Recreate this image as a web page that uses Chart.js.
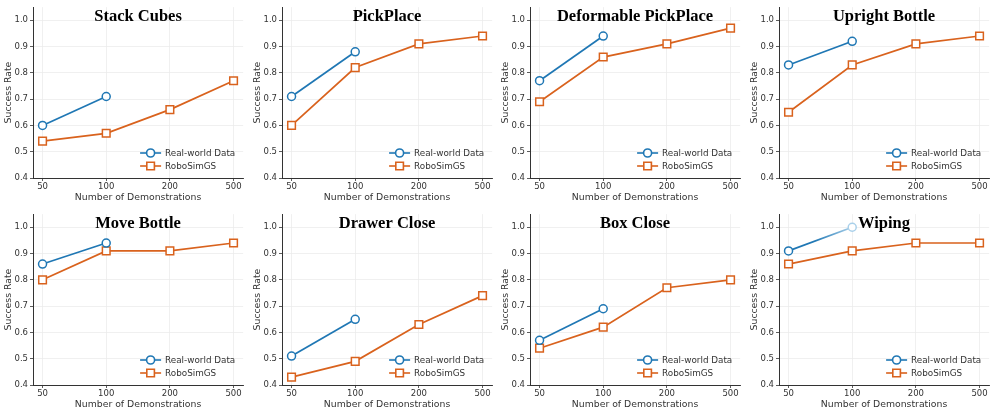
<!DOCTYPE html>
<html>
<head>
<meta charset="utf-8">
<script src="https://cdn.jsdelivr.net/npm/chart.js@4/dist/chart.umd.min.js"></script>
<style>
  html, body { margin: 0; padding: 0; background: #fff; }
  #wrap { position: relative; width: 997px; height: 415px; overflow: hidden; }
  .panel { position: absolute; }
</style>
</head>
<body>
<div id="wrap"></div>
<script>
// ---------------- DATA ----------------
const demonstrations = ['50', '100', '200', '500'];
const taskTitles = ['Stack Cubes', 'PickPlace', 'Deformable PickPlace', 'Upright Bottle',
                    'Move Bottle', 'Drawer Close', 'Box Close', 'Wiping'];
const seriesNames = ['Real-world Data', 'RoboSimGS'];

const stackCubesReal = [0.60, 0.71];
const stackCubesSim = [0.54, 0.57, 0.66, 0.77];
const pickPlaceReal = [0.71, 0.88];
const pickPlaceSim = [0.60, 0.82, 0.91, 0.94];
const deformableReal = [0.77, 0.94];
const deformableSim = [0.69, 0.86, 0.91, 0.97];
const uprightBottleReal = [0.83, 0.92];
const uprightBottleSim = [0.65, 0.83, 0.91, 0.94];
const moveBottleReal = [0.86, 0.94];
const moveBottleSim = [0.80, 0.91, 0.91, 0.94];
const drawerCloseReal = [0.51, 0.65];
const drawerCloseSim = [0.43, 0.49, 0.63, 0.74];
const boxCloseReal = [0.57, 0.69];
const boxCloseSim = [0.54, 0.62, 0.77, 0.80];
const wipingReal = [0.91, 1.00];
const wipingSim = [0.86, 0.91, 0.94, 0.94];

const yTicks = [0.4, 0.5, 0.6, 0.7, 0.8, 0.9, 1.0];

const realSeries = [stackCubesReal, pickPlaceReal, deformableReal, uprightBottleReal,
                    moveBottleReal, drawerCloseReal, boxCloseReal, wipingReal];
const simSeries = [stackCubesSim, pickPlaceSim, deformableSim, uprightBottleSim,
                   moveBottleSim, drawerCloseSim, boxCloseSim, wipingSim];

// ---------------- STYLE / LAYOUT ----------------
const BLUE = '#1f77b4';
const LIGHT_BLUE = '#a9d0ea';
const ORANGE = '#d9621d';
const panelLefts = [1, 250, 498, 747];
const panelTops = [0, 207];
const PANEL_W = 249, PANEL_H = 207;
const TICK_FONT = { family: 'DejaVu Sans', size: 8.5 };
const AXIS_FONT = { family: 'DejaVu Sans', size: 9.3 };

const toPoints = arr => arr.map((v, i) => ({ x: i, y: v }));

const overlayPlugin = {
  id: 'overlay',
  afterDraw(chart) {
    const ctx = chart.ctx;
    const a = chart.chartArea;
    const opts = chart.options.plugins.overlay;
    ctx.save();
    // title inside plot
    ctx.fillStyle = '#000';
    ctx.font = 'bold 16.5px "Liberation Serif"';
    ctx.textAlign = 'center';
    ctx.textBaseline = 'middle';
    ctx.fillText(opts.title, (a.left + a.right) / 2, a.top + 10);
    // legend lower right
    ctx.font = '8.8px "DejaVu Sans"';
    ctx.textAlign = 'left';
    const rows = [a.bottom - 25, a.bottom - 12];
    chart.data.datasets.forEach((ds, i) => {
      const y = rows[i];
      const x0 = a.right - 103, x1 = a.right - 82;
      const color = ds.legendColor;
      ctx.strokeStyle = color;
      ctx.lineWidth = 1.6;
      ctx.beginPath(); ctx.moveTo(x0, y); ctx.lineTo(x1, y); ctx.stroke();
      const cx = (x0 + x1) / 2;
      ctx.fillStyle = '#fff';
      ctx.beginPath();
      if (ds.pointStyle === 'circle') ctx.arc(cx, y, 4, 0, Math.PI * 2);
      else ctx.rect(cx - 3.8, y - 3.8, 7.6, 7.6);
      ctx.fill(); ctx.stroke();
      ctx.fillStyle = '#333';
      ctx.textBaseline = 'middle';
      ctx.fillText(ds.label, a.right - 78, y + 0.5);
    });
    ctx.restore();
  }
};

const wrap = document.getElementById('wrap');

taskTitles.forEach((title, idx) => {
  const col = idx % 4, row = Math.floor(idx / 4);
  const div = document.createElement('div');
  div.className = 'panel';
  div.style.left = panelLefts[col] + 'px';
  div.style.top = panelTops[row] + 'px';
  div.style.width = PANEL_W + 'px';
  div.style.height = PANEL_H + 'px';
  const canvas = document.createElement('canvas');
  canvas.width = PANEL_W; canvas.height = PANEL_H;
  div.appendChild(canvas);
  wrap.appendChild(div);

  const isWiping = title === 'Wiping';
  const realColor = isWiping ? (c) => {
    const ch = c.chart;
    if (!ch.chartArea) return BLUE;
    const xs = ch.scales.x;
    const g = ch.ctx.createLinearGradient(xs.getPixelForValue(0), 0, xs.getPixelForValue(1), 0);
    g.addColorStop(0, BLUE); g.addColorStop(0.4, BLUE); g.addColorStop(1, LIGHT_BLUE);
    return g;
  } : BLUE;

  new Chart(canvas, {
    type: 'line',
    data: {
      datasets: [
        {
          label: seriesNames[0],
          data: toPoints(realSeries[idx]),
          borderColor: realColor,
          legendColor: BLUE,
          borderWidth: 1.7,
          pointStyle: 'circle',
          pointRadius: 4,
          pointBorderWidth: 1.5,
          pointBackgroundColor: '#fff',
          pointBorderColor: isWiping ? [BLUE, LIGHT_BLUE] : BLUE,
          tension: 0
        },
        {
          label: seriesNames[1],
          data: toPoints(simSeries[idx]),
          borderColor: ORANGE,
          legendColor: ORANGE,
          borderWidth: 1.7,
          pointStyle: 'rect',
          pointRadius: 5.4,
          pointBorderWidth: 1.5,
          pointBackgroundColor: '#fff',
          pointBorderColor: ORANGE,
          tension: 0
        }
      ]
    },
    options: {
      responsive: false,
      animation: false,
      devicePixelRatio: 1,
      layout: { padding: { top: 3, right: 6, left: 0, bottom: 0 } },
      plugins: {
        legend: { display: false },
        tooltip: { enabled: false },
        title: { display: false },
        overlay: { title: title }
      },
      scales: {
        x: {
          type: 'linear',
          min: -0.15, max: 3.15,
          afterBuildTicks: s => { s.ticks = demonstrations.map((_, i) => ({ value: i })); },
          afterFit: s => { s.height = 29; },
          ticks: {
            callback: v => demonstrations[v],
            font: TICK_FONT, color: '#333', padding: 1, maxRotation: 0, autoSkip: false
          },
          grid: { color: '#ececec', lineWidth: 0.8, drawTicks: true, tickLength: 3, tickColor: '#333' },
          border: { display: true, color: '#333', width: 1 },
          title: { display: true, text: 'Number of Demonstrations', font: AXIS_FONT, color: '#333',
                   padding: { top: 0, bottom: 4 } }
        },
        y: {
          min: 0.4, max: 1.05,
          afterBuildTicks: s => { s.ticks = yTicks.map(v => ({ value: v })); },
          afterFit: s => { s.width = 32; },
          ticks: {
            callback: v => Number(v).toFixed(1),
            font: TICK_FONT, color: '#333', padding: 2
          },
          grid: { color: '#ececec', lineWidth: 0.8, drawTicks: true, tickLength: 3, tickColor: '#333' },
          border: { display: true, color: '#333', width: 1 },
          title: { display: true, text: 'Success Rate', font: AXIS_FONT, color: '#333',
                   padding: { top: 2, bottom: 0 } }
        }
      }
    },
    plugins: [overlayPlugin]
  });
});
</script>
</body>
</html>
